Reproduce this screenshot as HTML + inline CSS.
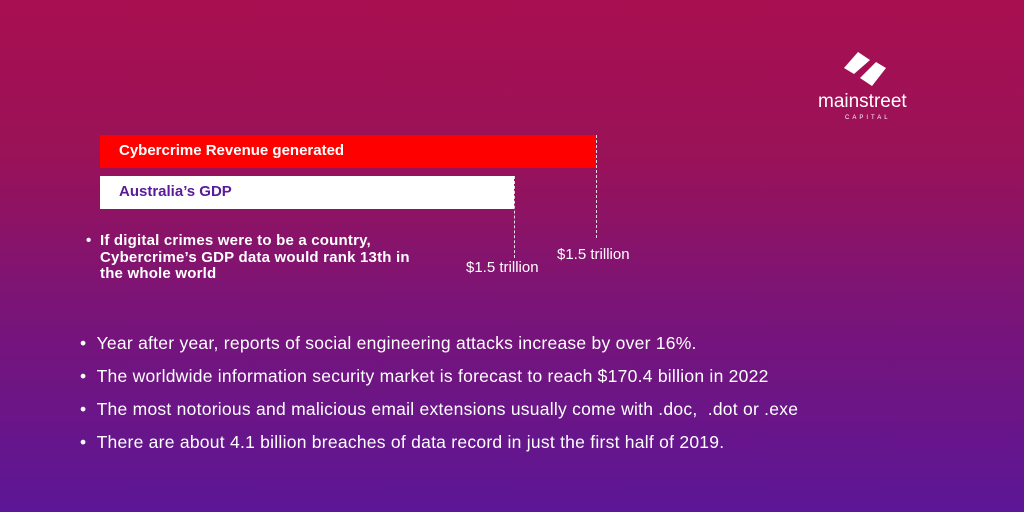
<!DOCTYPE html>
<html><head><style>
body{margin:0;width:1024px;height:512px;overflow:hidden;font-family:"Liberation Sans",sans-serif;}
#bg{position:absolute;left:0;top:0;width:1024px;height:512px;background:linear-gradient(180deg,#a80f50 0%,#9a1258 30%,#7a1478 60%,#5c1696 100%);}
.t{position:absolute;color:#fff;white-space:nowrap;}
</style></head><body>
<div id="bg"></div>
<div style="position:absolute;left:100px;top:135px;width:496px;height:33px;background:#ff0000"></div>
<div class="t" style="left:119px;top:142px;font-size:15px;font-weight:bold">Cybercrime Revenue generated</div>
<div style="position:absolute;left:100px;top:176px;width:414px;height:33px;background:#fff"></div>
<div class="t" style="left:119px;top:183px;font-size:15px;font-weight:bold;color:#5a1a9a">Australia’s GDP</div>
<div style="position:absolute;left:596px;top:135px;height:103px;border-left:1px dashed #ddd"></div>
<div style="position:absolute;left:514px;top:176px;height:82px;border-left:1px dashed #ddd"></div>
<div class="t" style="left:557px;top:246px;font-size:15px">$1.5 trillion</div>
<div class="t" style="left:466px;top:259px;font-size:15px">$1.5 trillion</div>
<div class="t" style="left:86px;top:233px;font-size:15px;font-weight:bold;line-height:16.5px">•</div>
<div class="t" style="left:100px;top:233px;font-size:15px;font-weight:bold;line-height:16.5px;letter-spacing:0.2px">If digital crimes were to be a country,<br>Cybercrime’s GDP data would rank 13th in<br>the whole world</div>
<div class="t" style="left:80px;top:327px;font-size:17.5px;line-height:33px;letter-spacing:0.25px">•&nbsp;&nbsp;Year after year, reports of social engineering attacks increase by over 16%.<br>•&nbsp;&nbsp;The worldwide information security market is forecast to reach $170.4 billion in 2022<br>•&nbsp;&nbsp;The most notorious and malicious email extensions usually come with .doc,&nbsp; .dot or .exe<br>•&nbsp;&nbsp;There are about 4.1 billion breaches of data record in just the first half of 2019.</div>
<svg style="position:absolute;left:840px;top:50px" width="50" height="40" viewBox="0 0 50 40">
<path d="M18 2 L30 10 L14 24 L4 18 Z" fill="#fff"/><path d="M36 12 L46 18 L32 36 L20 28 Z" fill="#fff"/></svg>
<div class="t" style="left:818px;top:91px;font-size:19px">mainstreet</div>
<div class="t" style="left:845px;top:115px;font-size:6px;letter-spacing:3px">CAPITAL</div>
</body></html>
